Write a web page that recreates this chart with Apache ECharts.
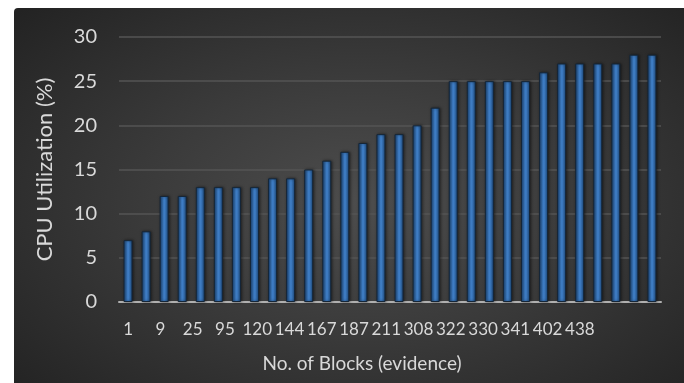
<!DOCTYPE html>
<html><head><meta charset="utf-8">
<script src="https://cdn.jsdelivr.net/npm/echarts@6/dist/echarts.min.js"></script>
<style>
html,body{margin:0;padding:0;background:#fff;}
#bg{position:absolute;left:14px;top:8px;width:670px;height:375px;border-top-left-radius:4px;
background:radial-gradient(ellipse 70% 75% at 52% 52%, #4d4d4d 0%, #3b3b3b 45%, #232323 100%);}
#chart{position:absolute;left:0;top:0;width:684px;height:383px;}
</style></head>
<body><div id="bg"></div><div id="chart"></div>
<script>
const tickLabels = ['1','9','25','95','120','144','167','187','211','308','322','330','341','402','438'];
const categories = ['1','','9','','25','','95','','120','','144','','167','','187','','211','','308','','322','','330','','341','','402','','438',''];
const cpuValues = [7,8,12,12,13,13,13,13,14,14,15,16,17,18,19,19,20,22,25,25,25,25,25,26,27,27,27,27,28,28];
const yTicks = {min:0, max:30, interval:5};

const font = "Lato, sans-serif";
const txt = '#d9d9d9';
const chart = echarts.init(document.getElementById('chart'), null, {renderer:'canvas'});
chart.setOption({
  backgroundColor: 'transparent',
  animation: false,
  grid: [
    {left:119, right:23, top:37, bottom:81},
    {left:112, width:484, top:37, bottom:81}
  ],
  xAxis: [
    {type:'category', gridIndex:0, data:categories, boundaryGap:true,
     axisLine:{show:true, lineStyle:{color:'#b0b0b0', width:2}},
     axisTick:{show:false}, axisLabel:{show:false}, splitLine:{show:false}},
    {type:'category', gridIndex:1, data:tickLabels, boundaryGap:true,
     axisLine:{show:false}, axisTick:{show:false}, splitLine:{show:false},
     axisLabel:{show:true, interval:0, color:txt, fontFamily:font, fontSize:17, margin:19},
     name:'No. of Blocks (evidence)', nameLocation:'middle', nameGap:52,
     nameTextStyle:{color:txt, fontFamily:font, fontSize:19, padding:[0,0,0,16]}}
  ],
  yAxis: [
    {type:'value', gridIndex:0, min:yTicks.min, max:yTicks.max, interval:yTicks.interval,
     axisLine:{show:false}, axisTick:{show:false},
     axisLabel:{color:txt, fontFamily:font, fontSize:20, margin:22},
     splitLine:{show:true, lineStyle:{color:'#555555', width:1.5}},
     name:'CPU Utilization (%)', nameLocation:'middle', nameGap:63,
     nameTextStyle:{color:txt, fontFamily:font, fontSize:22}},
    {type:'value', gridIndex:1, min:yTicks.min, max:yTicks.max, show:false}
  ],
  series: [{
    type:'bar', xAxisIndex:0, yAxisIndex:0, data:cpuValues, barWidth:'50%',
    itemStyle:{
      color:new echarts.graphic.LinearGradient(0,0,1,0,[
        {offset:0, color:'#1c4778'},
        {offset:0.45, color:'#3f7ec6'},
        {offset:0.55, color:'#3f7ec6'},
        {offset:1, color:'#1c4778'}]),
      borderColor:'#152638', borderWidth:1,
      shadowColor:'rgba(0,0,0,0.5)', shadowBlur:3, shadowOffsetX:1
    }
  }]
});
</script></body></html>
